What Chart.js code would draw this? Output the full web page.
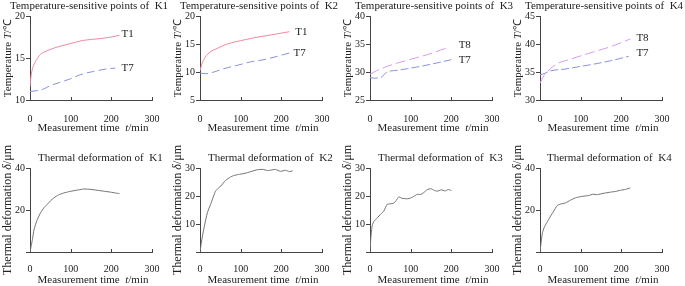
<!DOCTYPE html>
<html>
<head>
<meta charset="utf-8">
<script src="https://cdn.jsdelivr.net/npm/chart.js@4.4.1/dist/chart.umd.min.js"></script>
<style>
  html, body { margin: 0; padding: 0; background: #fff; width: 685px; height: 286px; overflow: hidden; }
  .cell { position: absolute; }
  canvas { display: block; }
</style>
</head>
<body>
<div class="cell" style="left:0;top:0"><canvas id="t1" width="180" height="143"></canvas></div>
<div class="cell" style="left:170px;top:0"><canvas id="t2" width="180" height="143"></canvas></div>
<div class="cell" style="left:340px;top:0"><canvas id="t3" width="180" height="143"></canvas></div>
<div class="cell" style="left:510px;top:0"><canvas id="t4" width="175" height="143"></canvas></div>
<div class="cell" style="left:0;top:143px"><canvas id="d1" width="180" height="143"></canvas></div>
<div class="cell" style="left:170px;top:143px"><canvas id="d2" width="180" height="143"></canvas></div>
<div class="cell" style="left:340px;top:143px"><canvas id="d3" width="180" height="143"></canvas></div>
<div class="cell" style="left:510px;top:143px"><canvas id="d4" width="175" height="143"></canvas></div>
<script>
// temperature of the sensitive points (time in min, T in deg C)
const k1T1Time = [0, 3, 8, 15, 25, 35, 49, 60, 74, 98, 131, 172, 200, 220];
const k1T1Temp = [11.6, 13.0, 14.0, 14.7, 15.4, 15.7, 16.0, 16.2, 16.4, 16.7, 17.1, 17.3, 17.5, 17.7];
const k1T7Time = [0, 15, 33, 49, 74, 98, 123, 156, 189, 210];
const k1T7Temp = [11.0, 11.1, 11.3, 11.7, 12.1, 12.5, 13.0, 13.4, 13.7, 13.8];

const k2T1Time = [0, 4, 10, 22, 42, 67, 100, 132, 173, 220];
const k2T1Temp = [10.2, 11.3, 12.3, 13.4, 14.2, 15.0, 15.6, 16.1, 16.6, 17.2];
const k2T7Time = [0, 15, 34, 59, 92, 124, 157, 190, 220];
const k2T7Temp = [9.8, 9.7, 10.0, 10.6, 11.2, 11.8, 12.2, 12.8, 13.4];

const k3T8Time = [0, 18, 42, 67, 92, 116, 141, 173, 190];
const k3T8Temp = [29.6, 30.3, 31.0, 31.6, 32.1, 32.6, 33.1, 33.9, 34.3];
const k3T7Time = [0, 10, 26, 42, 67, 92, 124, 157, 200];
const k3T7Temp = [29.0, 28.9, 29.0, 30.0, 30.3, 30.6, 31.0, 31.5, 32.2];

const k4T8Time = [0, 10, 26, 42, 67, 92, 132, 173, 222];
const k4T8Temp = [33.0, 34.4, 35.6, 36.5, 37.1, 37.7, 38.6, 39.5, 40.9];
const k4T7Time = [0, 10, 26, 59, 92, 132, 173, 218];
const k4T7Temp = [34.5, 34.7, 35.2, 35.5, 35.9, 36.4, 37.0, 37.8];

// thermal deformation (time in min, delta in um)
const k1DefTime = [0, 3, 6, 10, 18, 26, 34, 42, 50, 59, 70, 83, 95, 108, 120, 132, 150, 165, 180, 198, 210, 220];
const k1Def = [0, 3, 6, 10.8, 15.5, 18.7, 21, 22.6, 24.3, 25.8, 27.2, 28.1, 28.7, 29.2, 29.6, 30, 29.8, 29.4, 29, 28.5, 28.1, 27.8];
const k2DefTime = [0, 3, 6, 10, 18, 26, 38, 45, 51, 63, 75, 83, 95, 108, 125, 141, 155, 165, 173, 185, 198, 210, 220, 228];
const k2Def = [0, 3, 5.7, 8.7, 14, 17, 21.7, 22.8, 23.5, 25.6, 26.8, 27.3, 27.7, 28, 28.7, 29.4, 29.5, 29.1, 29.2, 29.5, 28.8, 29.2, 28.7, 29];
const k3DefTime = [0, 2, 4, 6, 10, 18, 26, 34, 42, 50, 59, 65, 71, 78, 92, 100, 108, 116, 124, 132, 141, 150, 158, 165, 175, 185, 192, 200];
const k3Def = [0, 5, 8, 9.8, 11, 12.2, 13.5, 14.6, 17, 17.2, 17.5, 18.5, 19.7, 19.2, 19, 19.3, 19.9, 20.6, 20.5, 21.2, 22.3, 22.6, 22.0, 21.7, 22.2, 21.8, 22.3, 22];
const k4DefTime = [0, 3, 6, 10, 14, 20, 26, 34, 42, 50, 63, 75, 87, 98, 108, 120, 130, 141, 155, 173, 185, 198, 210, 222];
const k4Def = [0, 5, 9.2, 11.5, 13.1, 15, 17.1, 19.5, 22.1, 22.8, 23.4, 24.7, 25.8, 26.3, 26.6, 26.9, 27.5, 27.3, 27.9, 28.5, 28.8, 29.4, 29.8, 30.5];

const serif = '"Liberation Serif", "Times New Roman", serif';
const ink = '#222';
const axisColor = '#444';
const red = '#f38a9c';
const blue = '#8a90e2';
const violet = '#d69cee';
const gray = '#707070';

function pts(ts, vs) {
  return ts.map((t, i) => ({ x: t, y: vs[i] }));
}

function richText(ctx, parts, x, y, size, rotate) {
  ctx.save();
  ctx.translate(x, y);
  if (rotate) ctx.rotate(-Math.PI / 2);
  ctx.textBaseline = 'middle';
  ctx.fillStyle = ink;
  let total = 0;
  parts.forEach(p => {
    ctx.font = (p[1] ? 'italic ' : '') + size + 'px ' + serif;
    total += ctx.measureText(p[0]).width;
  });
  let cx = -total / 2;
  parts.forEach(p => {
    ctx.font = (p[1] ? 'italic ' : '') + size + 'px ' + serif;
    ctx.textAlign = 'left';
    ctx.fillText(p[0], cx, 0);
    cx += ctx.measureText(p[0]).width;
  });
  ctx.restore();
}

function decor(cfg) {
  return {
    id: 'decor',
    afterDraw(chart) {
      const ctx = chart.ctx;
      const xs = chart.scales.x, ys = chart.scales.y;
      const area = chart.chartArea;
      // inward ticks on the time axis
      ctx.save();
      ctx.strokeStyle = axisColor;
      ctx.lineWidth = 1;
      [100, 200, 300].forEach(v => {
        const px = Math.round(xs.getPixelForValue(v)) + 0.5;
        ctx.beginPath();
        ctx.moveTo(px, area.bottom);
        ctx.lineTo(px, area.bottom - 3);
        ctx.stroke();
      });
      ctx.restore();
      // panel title
      ctx.save();
      ctx.font = cfg.titleSize + 'px ' + serif;
      ctx.fillStyle = ink;
      ctx.textAlign = 'left';
      ctx.textBaseline = 'middle';
      ctx.fillText(cfg.title, cfg.titleX, cfg.titleY);
      ctx.restore();
      // axis titles
      richText(ctx, cfg.yTitle, 8, (area.top + area.bottom) / 2, cfg.yTitleSize, true);
      richText(ctx, [['Measurement time  ', false], ['t', true], ['/min', false]], 93, cfg.xTitleY, 11, false);
      // series labels
      ctx.save();
      ctx.font = '11px ' + serif;
      ctx.fillStyle = ink;
      ctx.textAlign = 'left';
      ctx.textBaseline = 'middle';
      (cfg.labels || []).forEach(l => {
        ctx.fillText(l.text, xs.getPixelForValue(l.x), ys.getPixelForValue(l.y));
      });
      ctx.restore();
    }
  };
}

function makePanel(id, cfg) {
  const canvas = document.getElementById(id);
  const W = canvas.width, H = canvas.height;
  new Chart(canvas, {
    type: 'line',
    data: {
      datasets: cfg.series.map(s => ({
        data: s.data,
        borderColor: s.color,
        borderWidth: 1,
        borderDash: s.dash || [],
        pointRadius: 0,
        fill: false,
        tension: s.smooth ? 0.4 : 0.15,
        cubicInterpolationMode: s.smooth ? 'monotone' : 'default'
      }))
    },
    options: {
      responsive: false,
      animation: false,
      events: [],
      layout: { padding: { top: cfg.top, right: W - 152, left: 0, bottom: 0 } },
      plugins: { legend: { display: false }, tooltip: { enabled: false } },
      scales: {
        x: {
          type: 'linear', min: 0, max: 300,
          ticks: { stepSize: 100, maxRotation: 0, autoSkip: false, padding: cfg.tickPad,
                   font: { family: serif, size: 10 }, color: ink },
          grid: { display: false },
          border: { display: true, color: axisColor, width: 1 },
          afterFit(s) { s.height = H - cfg.bottom; }
        },
        y: {
          min: cfg.yMin, max: cfg.yMax,
          ticks: { stepSize: cfg.yStep, padding: 1, font: { family: serif, size: 10 }, color: ink,
                   callback: v => (cfg.hideZero && v === 0) ? '' : v },
          grid: { drawOnChartArea: false, drawTicks: true, tickLength: 4, color: axisColor },
          border: { display: true, color: axisColor, width: 1 },
          afterFit(s) { s.width = 30; }
        }
      }
    },
    plugins: [decor(cfg)]
  });
}

const tempTitle = [['Temperature ', false], ['T', true], ['/\u2103', false]];
const defTitle = [['Thermal deformation ', false], ['\u03b4', true], ['/\u03bcm', false]];

const topRow = { top: 16, bottom: 100, tickPad: 5, titleY: 6, titleSize: 11,
                 yTitle: tempTitle, yTitleSize: 11, xTitleY: 128 };
const bottomRow = { top: 25, bottom: 109, tickPad: 3, titleY: 15, titleSize: 11, titleX: 38,
                    yTitle: defTitle, yTitleSize: 12, xTitleY: 137, hideZero: true };

makePanel('t1', Object.assign({}, topRow, {
  title: 'Temperature-sensitive points of  K1', titleX: 10, yMin: 10, yMax: 20, yStep: 5,
  series: [
    { data: pts(k1T1Time, k1T1Temp), color: red, smooth: true },
    { data: pts(k1T7Time, k1T7Temp), color: blue, dash: [8, 4], smooth: true }
  ],
  labels: [{ text: 'T1', x: 225, y: 17.9 }, { text: 'T7', x: 225, y: 13.8 }]
}));
makePanel('t2', Object.assign({}, topRow, {
  title: 'Temperature-sensitive points of  K2', titleX: 10, yMin: 5, yMax: 20, yStep: 5,
  series: [
    { data: pts(k2T1Time, k2T1Temp), color: red, smooth: true },
    { data: pts(k2T7Time, k2T7Temp), color: blue, dash: [8, 4], smooth: true }
  ],
  labels: [{ text: 'T1', x: 234, y: 17.2 }, { text: 'T7', x: 230, y: 13.4 }]
}));
makePanel('t3', Object.assign({}, topRow, {
  title: 'Temperature-sensitive points of  K3', titleX: 15, yMin: 25, yMax: 40, yStep: 5,
  series: [
    { data: pts(k3T8Time, k3T8Temp), color: violet, dash: [10, 4], smooth: true },
    { data: pts(k3T7Time, k3T7Temp), color: blue, dash: [8, 3], smooth: true }
  ],
  labels: [{ text: 'T8', x: 218, y: 34.8 }, { text: 'T7', x: 218, y: 32.1 }]
}));
makePanel('t4', Object.assign({}, topRow, {
  title: 'Temperature-sensitive points of  K4', titleX: 15, yMin: 30, yMax: 45, yStep: 5,
  series: [
    { data: pts(k4T8Time, k4T8Temp), color: violet, dash: [10, 4], smooth: true },
    { data: pts(k4T7Time, k4T7Temp), color: blue, dash: [8, 3], smooth: true }
  ],
  labels: [{ text: 'T8', x: 237, y: 41 }, { text: 'T7', x: 237, y: 38.3 }]
}));

makePanel('d1', Object.assign({}, bottomRow, {
  title: 'Thermal deformation of  K1', yMin: 0, yMax: 40, yStep: 20,
  series: [{ data: pts(k1DefTime, k1Def), color: gray }]
}));
makePanel('d2', Object.assign({}, bottomRow, {
  title: 'Thermal deformation of  K2', yMin: 0, yMax: 30, yStep: 10,
  series: [{ data: pts(k2DefTime, k2Def), color: gray }]
}));
makePanel('d3', Object.assign({}, bottomRow, {
  title: 'Thermal deformation of  K3', yMin: 0, yMax: 30, yStep: 10,
  series: [{ data: pts(k3DefTime, k3Def), color: gray }]
}));
makePanel('d4', Object.assign({}, bottomRow, {
  title: 'Thermal deformation of  K4', titleX: 37, yMin: 0, yMax: 40, yStep: 20,
  series: [{ data: pts(k4DefTime, k4Def), color: gray }]
}));
</script>
</body>
</html>
